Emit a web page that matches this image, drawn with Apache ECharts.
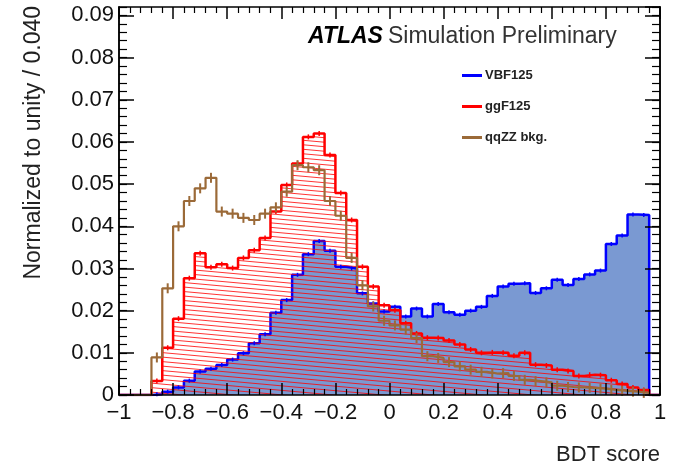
<!DOCTYPE html>
<html>
<head>
<meta charset="utf-8">
<script src="https://cdn.jsdelivr.net/npm/echarts@6/dist/echarts.min.js"></script>
<style>
  html, body { margin: 0; padding: 0; background: #fff; }
  #chart { width: 673px; height: 463px; }
</style>
</head>
<body>
<div id="chart"></div>
<script>
// BDT score histograms: 50 bins of width 0.04 from -1 to 1, each normalised to unity.
const binLow = -1;
const binWidth = 0.04;

const vbf125 = [
  0, 0, 0, 0.0002, 0.0008, 0.0018, 0.0034, 0.0056, 0.0062, 0.0071,
  0.0084, 0.0099, 0.0123, 0.0144, 0.0195, 0.0225, 0.0285, 0.0334, 0.0365, 0.0342,
  0.0304, 0.0300, 0.0241, 0.0217, 0.0198, 0.0209, 0.0186, 0.0205, 0.0186, 0.0216,
  0.0196, 0.0190, 0.0200, 0.0209, 0.0235, 0.0257, 0.0264, 0.0265, 0.0242, 0.0253,
  0.0273, 0.0261, 0.0275, 0.0286, 0.0295, 0.0358, 0.0378, 0.0428, 0.0427, 0
];

const ggf125 = [
  0, 0, 0, 0.0033, 0.0112, 0.0181, 0.0277, 0.0336, 0.0303, 0.0310,
  0.0301, 0.0325, 0.0343, 0.0372, 0.0435, 0.0498, 0.0549, 0.0612, 0.0620, 0.0569,
  0.0479, 0.0415, 0.0304, 0.0257, 0.0213, 0.0201, 0.0170, 0.0146, 0.0136, 0.0135,
  0.0129, 0.0120, 0.0108, 0.0100, 0.0101, 0.0100, 0.0093, 0.0100, 0.0072, 0.0070,
  0.0060, 0.0057, 0.0045, 0.0048, 0.0047, 0.0035, 0.0026, 0.0018, 0.0012, 0
];

const qqzz = [
  0, 0, 0, 0.0089, 0.0253, 0.0400, 0.0460, 0.0490, 0.0515, 0.0435,
  0.0430, 0.0420, 0.0415, 0.0430, 0.0445, 0.0482, 0.0545, 0.0540, 0.0533, 0.0460,
  0.0425, 0.0325, 0.0260, 0.0210, 0.0176, 0.0165, 0.0155, 0.0135, 0.0092, 0.0088,
  0.0078, 0.0068, 0.0060, 0.0055, 0.0051, 0.0052, 0.0045, 0.0036, 0.0033, 0.0030,
  0.0022, 0.0019, 0.0018, 0.0017, 0.0015, 0.0012, 0.0010, 0.0008, 0.0005, 0
];

const seriesNames = ['VBF125', 'ggF125', 'qqZZ bkg.'];

// axis ranges and tick spacing
const xRange = [-1, 1];
const xMajor = 0.2;
const yRange = [0, 0.092];
const yMajor = 0.01;
const yMinor = 0.002;

const FONT = '"Liberation Sans", Arial, Helvetica, sans-serif';
const BLUE = '#0000ff';
const BLUE_FILL = '#7a99d2';
const RED = '#ff0000';
const BROWN = '#9b6a38';

// step outline: one point per bin low edge, plus the closing upper edge
function stepPoints(values) {
  const pts = values.map((v, i) => [binLow + i * binWidth, v]);
  pts.push([binLow + values.length * binWidth, values[values.length - 1]]);
  return pts;
}
// bin centres for the error-bar markers
function centrePoints(values) {
  return values.map((v, i) => [binLow + (i + 0.5) * binWidth, v]).filter(p => p[1] > 0);
}

// slightly tilted red hatching used for the ggF fill
function hatchPattern() {
  const c = document.createElement('canvas');
  c.width = 100; c.height = 9;
  const g = c.getContext('2d');
  g.strokeStyle = 'rgba(255,0,0,0.8)';
  g.lineWidth = 1;
  for (let off = -9; off <= 9; off += 4.5) {
    g.beginPath();
    g.moveTo(0, off + 0.5);
    g.lineTo(100, off + 9 + 0.5);
    g.stroke();
  }
  return c;
}

function errorBars(name, values, color, half, width) {
  return {
    type: 'custom',
    name: name + ' err',
    silent: true,
    z: 6,
    data: centrePoints(values),
    renderItem(params, api) {
      const p = api.coord([api.value(0), api.value(1)]);
      return {
        type: 'line',
        shape: { x1: p[0], y1: p[1] - half, x2: p[0], y2: p[1] + half },
        style: { stroke: color, lineWidth: width }
      };
    }
  };
}

const xLabelFmt = v => {
  const r = Math.round(v * 10) / 10;
  if (r === 0) return '0';
  return (r < 0 ? '\u2212' : '') + String(Math.abs(r));
};
const yLabelFmt = v => {
  const n = v / yMajor;
  if (Math.abs(n - Math.round(n)) > 1e-6) return '';
  if (Math.round(n) === 0) return '0';
  return (Math.round(n) * yMajor).toFixed(2);
};

const frameLine = { show: true, onZero: false, lineStyle: { color: '#000', width: 1.5 } };

function xAxisDef(pos) {
  return {
    type: 'value', position: pos, min: xRange[0], max: xRange[1], interval: xMajor, z: 10,
    axisLine: frameLine,
    axisTick: { show: true, inside: true, length: 12, lineStyle: { color: '#000', width: 1.5 } },
    minorTick: { show: true, splitNumber: 5, length: 6, lineStyle: { color: '#000', width: 1.2 } },
    splitLine: { show: false }, minorSplitLine: { show: false },
    axisLabel: pos === 'bottom'
      ? { show: true, margin: 7, color: '#111', fontFamily: FONT, fontSize: 22, formatter: xLabelFmt }
      : { show: false }
  };
}
function yAxisDef(pos, interval, len, labels) {
  return {
    type: 'value', position: pos, min: yRange[0], max: yRange[1], interval: interval, z: 10,
    axisLine: frameLine,
    axisTick: { show: true, inside: true, length: len, lineStyle: { color: '#000', width: len > 10 ? 1.5 : 1.2 } },
    splitLine: { show: false },
    axisLabel: labels
      ? { show: true, margin: 5, color: '#111', fontFamily: FONT, fontSize: 22, formatter: yLabelFmt, showMaxLabel: false }
      : { show: false }
  };
}

const chart = echarts.init(document.getElementById('chart'), null, { renderer: 'canvas' });

chart.setOption({
  animation: false,
  backgroundColor: '#fff',
  grid: { left: 119, right: 13, top: 7, bottom: 68, containLabel: false },
  title: {
    left: 303, top: 20,
    text: '{a|ATLAS} {b|Simulation Preliminary}',
    textStyle: {
      rich: {
        a: { fontFamily: FONT, fontSize: 23, fontStyle: 'italic', fontWeight: 'bold', color: '#000' },
        b: { fontFamily: FONT, fontSize: 23, fontWeight: 'normal', color: '#333' }
      }
    }
  },
  legend: {
    orient: 'vertical', left: 457, top: 64,
    data: seriesNames,
    icon: 'rect', itemWidth: 20, itemHeight: 3, itemGap: 18,
    selectedMode: false,
    textStyle: { fontFamily: FONT, fontSize: 13, fontWeight: 'bold', color: '#222', padding: [0, 0, 0, -2] }
  },
  xAxis: [xAxisDef('bottom'), xAxisDef('top')],
  yAxis: [
    yAxisDef('left', yMajor, 15, true),
    yAxisDef('left', yMinor, 8, false),
    yAxisDef('right', yMajor, 15, false),
    yAxisDef('right', yMinor, 8, false)
  ],
  graphic: [
    {
      type: 'text', x: 34, y: 6, rotation: Math.PI / 2,
      style: { text: 'Normalized to unity / 0.040', fontFamily: FONT, fontSize: 23, fill: '#222',
               align: 'right', verticalAlign: 'middle' }
    },
    {
      type: 'text', x: 660, y: 455,
      style: { text: 'BDT score', fontFamily: FONT, fontSize: 22, fill: '#222',
               align: 'right', verticalAlign: 'middle' }
    }
  ],
  series: [
    {
      name: seriesNames[0], type: 'line', step: 'end', symbol: 'none', z: 2,
      data: stepPoints(vbf125),
      color: BLUE,
      itemStyle: { color: BLUE },
      lineStyle: { color: BLUE, width: 2.5 },
      areaStyle: { color: BLUE_FILL, opacity: 1 }
    },
    {
      name: seriesNames[1], type: 'line', step: 'end', symbol: 'none', z: 3,
      data: stepPoints(ggf125),
      color: RED,
      itemStyle: { color: RED },
      lineStyle: { color: RED, width: 2.5 },
      areaStyle: { color: { image: hatchPattern(), repeat: 'repeat' }, opacity: 1 }
    },
    {
      name: seriesNames[2], type: 'line', step: 'end', symbol: 'none', z: 4,
      data: stepPoints(qqzz),
      color: BROWN,
      itemStyle: { color: BROWN },
      lineStyle: { color: BROWN, width: 2.2 }
    },
    errorBars('VBF125', vbf125, BLUE, 2, 1.5),
    errorBars('ggF125', ggf125, RED, 2.5, 1.5),
    errorBars('qqZZ', qqzz, BROWN, 5, 2)
  ]
});
</script>
</body>
</html>
